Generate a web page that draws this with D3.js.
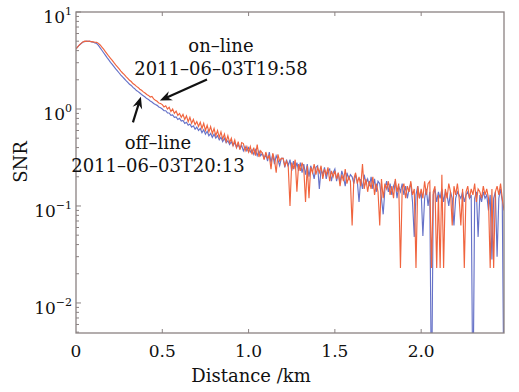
<!DOCTYPE html>
<html><head><meta charset="utf-8">
<script src="https://cdn.jsdelivr.net/npm/d3@7"></script>
<style>body{margin:0;background:#fff}svg{display:block}</style>
</head><body><svg id="c" width="519" height="392"></svg>
<script>
// range-bin spacing of the lidar profiles (km)
const binKm = 0.01;
// off-line SNR profile (2011-06-03T20:13)
const offLine = [
4.17,4.37,4.57,4.73,4.90,4.95,5.00,4.96,5.00,4.92,
4.88,4.80,4.73,4.52,4.27,4.03,3.80,3.59,3.39,3.21,
3.03,2.88,2.73,2.59,2.47,2.35,2.24,2.14,2.05,1.96,
1.88,1.80,1.75,1.67,1.62,1.55,1.51,1.46,1.41,1.37,
1.33,1.28,1.25,1.21,1.18,1.14,1.11,1.09,1.05,1.03,
1.00,0.96,0.96,0.91,0.91,0.86,0.87,0.82,0.83,0.78,
0.80,0.75,0.76,0.71,0.73,0.68,0.70,0.65,0.67,0.62,
0.65,0.60,0.63,0.57,0.61,0.55,0.59,0.53,0.56,0.51,
0.55,0.50,0.53,0.48,0.51,0.46,0.50,0.45,0.47,0.43,
0.46,0.42,0.45,0.40,0.43,0.39,0.42,0.37,0.41,0.37,
0.40,0.36,0.38,0.34,0.38,0.33,0.37,0.33,0.35,0.31,
0.34,0.29,0.36,0.28,0.34,0.27,0.33,0.30,0.26,0.31,
0.31,0.25,0.30,0.26,0.30,0.23,0.29,0.24,0.28,0.23,
0.28,0.22,0.27,0.21,0.27,0.20,0.26,0.23,0.19,0.25,
0.26,0.15,0.24,0.21,0.25,0.19,0.23,0.24,0.18,0.22,
0.24,0.18,0.22,0.17,0.23,0.20,0.16,0.22,0.19,0.21,
0.20,0.17,0.21,0.18,0.11,0.19,0.15,0.21,0.17,0.19,
0.16,0.20,0.15,0.19,0.14,0.18,0.17,0.12,0.082,0.15,
0.18,0.14,0.17,0.13,0.16,0.18,0.12,0.16,0.14,0.17,
0.13,0.16,0.12,0.15,0.17,0.11,0.048,0.13,0.16,0.12,
0.14,0.049,0.12,0.15,0.10,0.14,0.0008,0.13,0.15,0.11,
0.14,0.12,0.15,0.11,0.14,0.13,0.10,0.14,0.12,0.063,
0.12,0.14,0.13,0.12,0.14,0.11,0.13,0.14,0.12,0.13,
0.0008,0.12,0.14,0.048,0.13,0.11,0.14,0.12,0.13,0.09,
0.13,0.028,0.12,0.14,0.03,0.12,0.15,0.11,0.0008
];
// on-line SNR profile (2011-06-03T19:58)
const onLine = [
4.17,4.37,4.58,4.75,4.92,5.00,4.98,5.02,4.98,4.95,
4.92,4.88,4.87,4.75,4.57,4.35,4.14,3.91,3.70,3.50,
3.33,3.17,3.00,2.85,2.72,2.59,2.46,2.35,2.26,2.16,
2.07,1.98,1.92,1.83,1.78,1.71,1.67,1.60,1.56,1.50,
1.46,1.41,1.38,1.33,1.35,1.27,1.23,1.20,1.15,1.14,
1.11,1.05,1.08,1.00,1.04,0.94,1.00,0.90,0.95,0.86,
0.90,0.82,0.88,0.78,0.85,0.74,0.82,0.71,0.78,0.69,
0.74,0.66,0.73,0.63,0.71,0.60,0.68,0.58,0.66,0.56,
0.63,0.53,0.60,0.51,0.58,0.49,0.55,0.46,0.53,0.45,
0.50,0.42,0.48,0.40,0.46,0.38,0.45,0.44,0.37,0.41,
0.36,0.41,0.34,0.40,0.33,0.43,0.32,0.37,0.35,0.30,
0.36,0.31,0.33,0.24,0.35,0.30,0.22,0.34,0.29,0.31,
0.31,0.26,0.29,0.25,0.10,0.28,0.24,0.30,0.14,0.27,
0.23,0.28,0.24,0.11,0.26,0.12,0.25,0.22,0.27,0.21,
0.25,0.22,0.26,0.19,0.24,0.21,0.25,0.18,0.23,0.20,
0.23,0.19,0.22,0.16,0.21,0.18,0.24,0.17,0.20,0.18,
0.063,0.19,0.22,0.17,0.20,0.16,0.27,0.15,0.19,0.14,
0.18,0.15,0.20,0.13,0.17,0.14,0.063,0.19,0.12,0.17,
0.15,0.18,0.13,0.16,0.12,0.19,0.14,0.17,0.023,0.15,
0.17,0.12,0.16,0.14,0.18,0.13,0.15,0.023,0.16,0.12,
0.15,0.12,0.18,0.13,0.17,0.18,0.023,0.14,0.16,0.023,
0.13,0.023,0.21,0.023,0.15,0.12,0.17,0.14,0.063,0.16,
0.13,0.17,0.12,0.063,0.15,0.023,0.14,0.16,0.12,0.15,
0.13,0.17,0.11,0.15,0.14,0.12,0.16,0.13,0.15,0.12,
0.023,0.15,0.023,0.14,0.16,0.13,0.17,0.12,0.09
];
const xTicks = [0, 0.5, 1.0, 1.5, 2.0];
const xTickLabels = ["0", "0.5", "1.0", "1.5", "2.0"];
const yDecades = [-2, -1, 0, 1];
const yDecadeLabels = ["\u22122", "\u22121", "0", "1"];
const xTitle = "Distance /km";
const yTitle = "SNR";
const noteLines = [["on\u2013line", "2011\u201306\u201303T19:58"], ["off\u2013line", "2011\u201306\u201303T20:13"]];
const noteAnchors = [[0.84, 3.89, 2.26], [0.475, 0.384, 0.223]];
const arrowTails = [[0.759, 2.01], [0.33, 0.727]];
const arrowTips = [[0.486, 1.22], [0.376, 1.34]];

const svg = d3.select("#c");
const L = 76, R = 504, T = 12, B = 333;
const x = d3.scaleLinear().domain([0, 2.48]).range([L, R]);
const y = d3.scaleLog().domain([0.0049, 10]).range([B, T]);
const serif = "'DejaVu Serif', serif";
const axisCol = "#8a8282";

svg.append("defs").append("clipPath").attr("id", "clip")
  .append("rect").attr("x", L).attr("y", T).attr("width", R - L).attr("height", B - T);

const distance = offLine.map((_, i) => i * binKm);
const line = d3.line().x((d, i) => x(distance[i])).y(d => y(Math.max(d, 1e-4)));
const g = svg.append("g").attr("clip-path", "url(#clip)");
g.append("path").datum(offLine).attr("d", line).attr("fill", "none")
  .attr("stroke", "#6672c8").attr("stroke-width", 1.15);
g.append("path").datum(onLine).attr("d", line).attr("fill", "none")
  .attr("stroke", "#f0643e").attr("stroke-width", 1.15);

// frame
svg.append("rect").attr("x", L).attr("y", T).attr("width", R - L).attr("height", B - T)
  .attr("fill", "none").attr("stroke", axisCol).attr("stroke-width", 1.3);

// x ticks (inside, bottom and top)
xTicks.forEach(v => {
  if (v === 0) return;
  svg.append("line").attr("x1", x(v)).attr("x2", x(v)).attr("y1", B).attr("y2", B - 4)
    .attr("stroke", axisCol).attr("stroke-width", 1);
  svg.append("line").attr("x1", x(v)).attr("x2", x(v)).attr("y1", T).attr("y2", T + 4)
    .attr("stroke", axisCol).attr("stroke-width", 1);
});
svg.selectAll(".xl").data(xTicks).enter().append("text")
  .attr("x", d => x(d)).attr("y", 357).attr("text-anchor", "middle")
  .attr("font-family", serif).attr("font-size", 17).attr("fill", "#111")
  .text((d, i) => xTickLabels[i]);

// y ticks
const yTicksAll = y.ticks();
yTicksAll.forEach(v => {
  if (v < y.domain()[0] || v > y.domain()[1]) return;
  const major = Math.abs(Math.log10(v) - Math.round(Math.log10(v))) < 1e-6;
  const len = major ? 5 : 3;
  svg.append("line").attr("x1", L).attr("x2", L + len).attr("y1", y(v)).attr("y2", y(v))
    .attr("stroke", axisCol).attr("stroke-width", 1);
});
yDecades.forEach((p, i) => {
  const t = svg.append("text").attr("x", 72).attr("y", y(Math.pow(10, p)) + 11)
    .attr("text-anchor", "end").attr("font-family", serif).attr("font-size", 17).attr("fill", "#111");
  t.append("tspan").text("10");
  t.append("tspan").attr("dy", -8).attr("font-size", 11).text(yDecadeLabels[i]);
});

// axis titles
svg.append("text").attr("x", 251).attr("y", 382).attr("text-anchor", "middle")
  .attr("font-family", serif).attr("font-size", 18).attr("fill", "#111").text(xTitle);
svg.append("text").attr("transform", "translate(27,162) rotate(-90)").attr("text-anchor", "middle")
  .attr("font-family", serif).attr("font-size", 18).attr("fill", "#111").text(yTitle);

// annotations
noteLines.forEach((lines, k) => {
  const a = noteAnchors[k];
  svg.append("text").attr("x", x(a[0])).attr("y", y(a[1])).attr("text-anchor", "middle")
    .attr("font-family", serif).attr("font-size", 18).attr("fill", "#111").text(lines[0]);
  svg.append("text").attr("x", x(a[0])).attr("y", y(a[2])).attr("text-anchor", "middle")
    .attr("font-family", serif).attr("font-size", 18).attr("fill", "#111").text(lines[1]);
});
arrowTails.forEach((tail, k) => {
  const tip = arrowTips[k];
  const x1 = x(tail[0]), y1 = y(tail[1]), x2 = x(tip[0]), y2 = y(tip[1]);
  const ang = Math.atan2(y2 - y1, x2 - x1);
  const cos = Math.cos(ang), sin = Math.sin(ang);
  const px = (a, b) => [x2 + a * cos - b * sin, y2 + a * sin + b * cos];
  svg.append("line").attr("x1", x1).attr("y1", y1).attr("x2", px(-7, 0)[0]).attr("y2", px(-7, 0)[1])
    .attr("stroke", "#111").attr("stroke-width", 2.2);
  const pts = [px(0, 0), px(-12, -5), px(-8, 0), px(-12, 5)];
  svg.append("path").attr("d", "M" + pts.map(p => p.join(",")).join("L") + "Z").attr("fill", "#111");
});
</script></body></html>
